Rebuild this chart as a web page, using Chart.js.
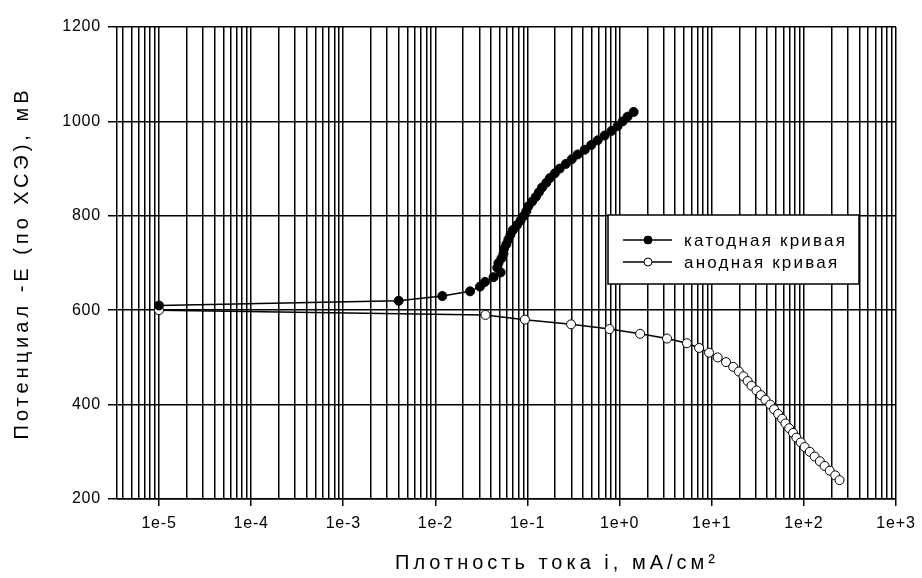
<!DOCTYPE html>
<html>
<head>
<meta charset="utf-8">
<title>Поляризационные кривые</title>
<script src="https://cdn.jsdelivr.net/npm/chart.js@4.4.1/dist/chart.umd.min.js"></script>
<style>
  html, body { margin: 0; padding: 0; background: #fff; }
  #wrap { width: 922px; height: 578px; }
</style>
</head>
<body>
<div id="wrap"><canvas id="chart" width="922" height="578"></canvas></div>
<script>
// --- DATA ---
// катодная кривая: плотность тока (мА/см2) и потенциал -E (мВ)
const cathodeI = [1e-5, 4.0e-3, 1.19e-2, 2.38e-2, 3.05e-2, 3.46e-2, 4.28e-2, 5.12e-2, 4.70e-2, 4.84e-2,
                  5.22e-2, 5.49e-2, 5.56e-2, 5.91e-2, 6.21e-2, 6.53e-2, 6.95e-2, 7.67e-2, 8.41e-2, 9.14e-2,
                  9.73e-2, 0.102, 0.112, 0.123, 0.133, 0.144, 0.160, 0.175, 0.198, 0.224,
                  0.261, 0.303, 0.351, 0.418, 0.492, 0.578, 0.689, 0.819, 0.951, 1.08, 1.22, 1.42];
const cathodeE = [610, 620, 630, 640, 650, 660, 670, 680, 690, 700,
                  710, 720, 730, 740, 750, 760, 770, 780, 790, 800,
                  810, 820, 830, 840, 850, 860, 870, 880, 890, 900,
                  910, 920, 930, 940, 950, 960, 970, 980, 990, 1000, 1010, 1020];

// анодная кривая
const anodeI = [1e-5, 0.035, 0.0938, 0.297, 0.777, 1.67, 3.27, 5.38, 7.29, 9.35,
                11.6, 14.3, 17.1, 19.7, 22.1, 24.5, 27.0, 30.6, 34.1, 38.3,
                43.1, 47.5, 52.6, 58.1, 63.1, 69.2, 76.4, 83.0, 92.5, 102,
                116, 131, 149, 168, 191, 219, 244];
const anodeE = [600, 590, 580, 570, 560, 550, 540, 530, 520, 510,
                500, 490, 480, 470, 460, 450, 440, 430, 420, 410,
                400, 390, 380, 370, 360, 350, 340, 330, 320, 310,
                300, 290, 280, 270, 260, 250, 240];

const seriesNames = ['катодная кривая', 'анодная кривая'];

// axes
const xTickExps = [-5, -4, -3, -2, -1, 0, 1, 2, 3];
const xTickLabels = ['1e-5', '1e-4', '1e-3', '1e-2', '1e-1', '1e+0', '1e+1', '1e+2', '1e+3'];
const xMinorMults = [1, 2, 3, 4, 5, 6, 7, 8, 9];
const xMin = 3.5e-6, xMax = 1000;
const yTicks = [200, 400, 600, 800, 1000, 1200];

const xTitle = 'Плотность тока i, мА/см²';
const yTitle = 'Потенциал -Е (по ХСЭ), мВ';

const FONT = '"Liberation Sans", Arial, sans-serif';

// --- HELPERS ---
const toPoints = (xs, ys) => xs.map((x, i) => ({ x: x, y: ys[i] }));

const decadeIndex = (v) => {
    const l = Math.log10(v);
    const r = Math.round(l);
    if (Math.abs(l - r) > 1e-9) return -1;
    return xTickExps.indexOf(r);
};

// --- PLUGIN: titles + legend drawn inside the plot ---
const titlesAndLegend = {
    id: 'titlesAndLegend',
    beforeDraw(chart) {
        chart.ctx.letterSpacing = '0.8px';
    },
    afterDraw(chart) {
        const ctx = chart.ctx;
        const area = chart.chartArea;

        // axis titles
        ctx.save();
        ctx.fillStyle = '#000';
        ctx.font = '20px ' + FONT;
        ctx.letterSpacing = '4px';
        ctx.textAlign = 'center';
        ctx.textBaseline = 'middle';
        ctx.fillText(xTitle, 557, 563);
        ctx.translate(22, (area.top + area.bottom) / 2);
        ctx.rotate(-Math.PI / 2);
        ctx.fillText(yTitle, 0, 0);
        ctx.restore();

        // legend box
        const box = { x: 608, y: 215, w: 251, h: 69 };
        ctx.save();
        ctx.fillStyle = '#fff';
        ctx.fillRect(box.x, box.y, box.w, box.h);
        ctx.strokeStyle = '#000';
        ctx.lineWidth = 1.5;
        ctx.strokeRect(box.x, box.y, box.w, box.h);

        ctx.font = '17px ' + FONT;
        ctx.letterSpacing = '2.2px';
        ctx.textBaseline = 'middle';
        ctx.textAlign = 'left';
        const rows = [240, 262];
        chart.data.datasets.forEach((ds, i) => {
            const y = rows[i];
            ctx.strokeStyle = ds.borderColor;
            ctx.lineWidth = ds.borderWidth;
            ctx.beginPath();
            ctx.moveTo(623, y);
            ctx.lineTo(672, y);
            ctx.stroke();
            ctx.beginPath();
            ctx.arc(648, y, 4, 0, Math.PI * 2);
            ctx.fillStyle = ds.pointBackgroundColor;
            ctx.fill();
            ctx.lineWidth = 1;
            ctx.strokeStyle = ds.pointBorderColor;
            ctx.stroke();
            ctx.fillStyle = '#000';
            ctx.fillText(ds.label, 684, y + 1);
        });
        ctx.restore();
    }
};

// --- CHART ---
new Chart(document.getElementById('chart'), {
    type: 'scatter',
    data: {
        datasets: [{
            label: seriesNames[0],
            data: toPoints(cathodeI, cathodeE),
            showLine: true,
            borderColor: '#000',
            borderWidth: 1.5,
            pointRadius: 4.5,
            pointBackgroundColor: '#000',
            pointBorderColor: '#000',
            pointBorderWidth: 1
        }, {
            label: seriesNames[1],
            data: toPoints(anodeI, anodeE),
            showLine: true,
            borderColor: '#000',
            borderWidth: 1.5,
            pointRadius: 4.5,
            pointBackgroundColor: '#fff',
            pointBorderColor: '#000',
            pointBorderWidth: 1
        }]
    },
    options: {
        responsive: false,
        animation: false,
        devicePixelRatio: 1,
        layout: { padding: { left: 0, right: 24, top: 27, bottom: 0 } },
        plugins: {
            legend: { display: false },
            tooltip: { enabled: false }
        },
        scales: {
            x: {
                type: 'logarithmic',
                min: xMin,
                max: xMax,
                afterBuildTicks: (scale) => {
                    const ticks = [];
                    for (let e = -6; e <= 3; e++) {
                        xMinorMults.forEach(m => {
                            const v = Number(m + 'e' + e);
                            if (v >= xMin && v <= xMax) ticks.push({ value: v });
                        });
                    }
                    scale.ticks = ticks;
                },
                afterFit: (scale) => { scale.height = 79; },
                border: { display: true, color: '#000', width: 1.5 },
                grid: {
                    color: '#000',
                    lineWidth: 1.5,
                    tickLength: 7,
                    tickColor: (c) => decadeIndex(c.tick.value) >= 0 ? '#000' : 'rgba(0,0,0,0)'
                },
                ticks: {
                    autoSkip: false,
                    maxRotation: 0,
                    padding: 8,
                    color: '#000',
                    font: { family: FONT, size: 16 },
                    callback: (v) => {
                        const k = decadeIndex(v);
                        return k >= 0 ? xTickLabels[k] : '';
                    }
                }
            },
            y: {
                type: 'linear',
                min: yTicks[0],
                max: yTicks[yTicks.length - 1],
                afterBuildTicks: (scale) => { scale.ticks = yTicks.map(v => ({ value: v })); },
                afterFit: (scale) => { scale.width = 117; },
                border: { display: true, color: '#000', width: 1.5 },
                grid: { color: '#000', lineWidth: 1.5, tickLength: 9, tickColor: '#000' },
                ticks: {
                    padding: 7,
                    color: '#000',
                    font: { family: FONT, size: 16 },
                    callback: (v) => String(v)
                }
            }
        }
    },
    plugins: [titlesAndLegend]
});
</script>
</body>
</html>
